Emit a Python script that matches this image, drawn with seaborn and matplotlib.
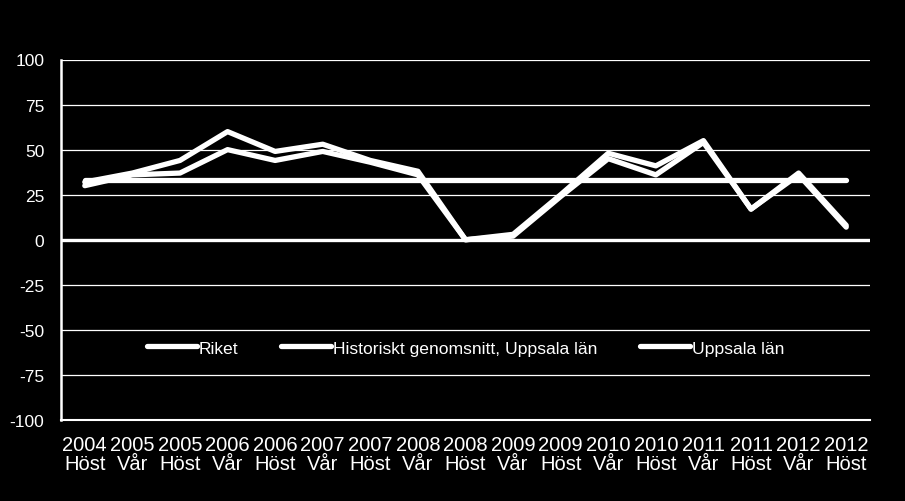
import matplotlib
matplotlib.use("Agg")
import matplotlib.pyplot as plt
import seaborn as sns
import pandas as pd
import numpy as np

years = ["2004", "2005", "2005", "2006", "2006", "2007", "2007", "2008", "2008",
         "2009", "2009", "2010", "2010", "2011", "2011", "2012", "2012"]
seasons = ["Höst", "Vår", "Höst", "Vår", "Höst", "Vår", "Höst", "Vår", "Höst",
           "Vår", "Höst", "Vår", "Höst", "Vår", "Höst", "Vår", "Höst"]
riket = [30, 36, 37, 50, 44, 49, 43, 36, 0, 2, 24, 45, 36, 54, 17, 36, 7]
historiskt = [33] * 17
uppsala = [32, 37, 44, 60, 49, 53, 44, 38, 0, 3, 25, 48, 41, 55, 17, 37, 8]
series_names = ["Riket", "Historiskt genomsnitt, Uppsala län", "Uppsala län"]
yticks = [-100, -75, -50, -25, 0, 25, 50, 75, 100]

labels = [f"{y}\n{s}" for y, s in zip(years, seasons)]
pos = list(range(len(labels)))
df = pd.DataFrame({
    "pos": pos * 3,
    "value": riket + historiskt + uppsala,
    "serie": sum([[n] * len(pos) for n in series_names], []),
})

sns.set_theme(style="dark")
plt.rcParams["font.family"] = ["Liberation Sans", "DejaVu Sans"]

fig = plt.figure(figsize=(9.05, 5.02), dpi=100, facecolor="black")
ax = fig.add_axes([61 / 905, 1 - 421 / 502, (870 - 61) / 905, (421 - 60.5) / 502])
ax.set_facecolor("black")

for y in yticks:
    if y == 0:
        ax.axhline(y, color="white", lw=2.4, zorder=1)
    else:
        ax.axhline(y, color="white", lw=0.9, zorder=1)

sns.lineplot(data=df, x="pos", y="value", hue="serie", hue_order=series_names,
             palette=["white", "white", "white"], lw=3.8, ax=ax, legend=True,
             solid_capstyle="round", solid_joinstyle="round", zorder=3)

ax.set_xlim(-0.5, len(pos) - 0.5)
ax.set_ylim(-100, 100)
ax.set_yticks(yticks)
ax.set_yticklabels([str(v) for v in yticks], fontsize=12.5, color="white")
ax.set_xticks(pos)
ax.set_xticklabels(labels, fontsize=14.5, color="white", linespacing=0.95)
ax.tick_params(axis="both", length=0)
ax.tick_params(axis="y", pad=12)
ax.tick_params(axis="x", pad=11)
ax.set_xlabel("")
ax.set_ylabel("")
ax.grid(False)

for side in ["top", "right"]:
    ax.spines[side].set_visible(False)
ax.spines["left"].set_color("white")
ax.spines["left"].set_linewidth(1.8)
ax.spines["bottom"].set_color("white")
ax.spines["bottom"].set_linewidth(1.5)

leg = ax.legend(loc="center", bbox_to_anchor=(0.5, 0.2), ncol=3, frameon=False,
                fontsize=12.6, handlelength=2.9, handletextpad=0.1, columnspacing=2.4)
for t in leg.get_texts():
    t.set_color("white")
for h in leg.get_lines():
    h.set_color("white")
    h.set_linewidth(3.8)
    h.set_solid_capstyle("round")

fig.savefig("out.png", dpi=100, facecolor="black")
